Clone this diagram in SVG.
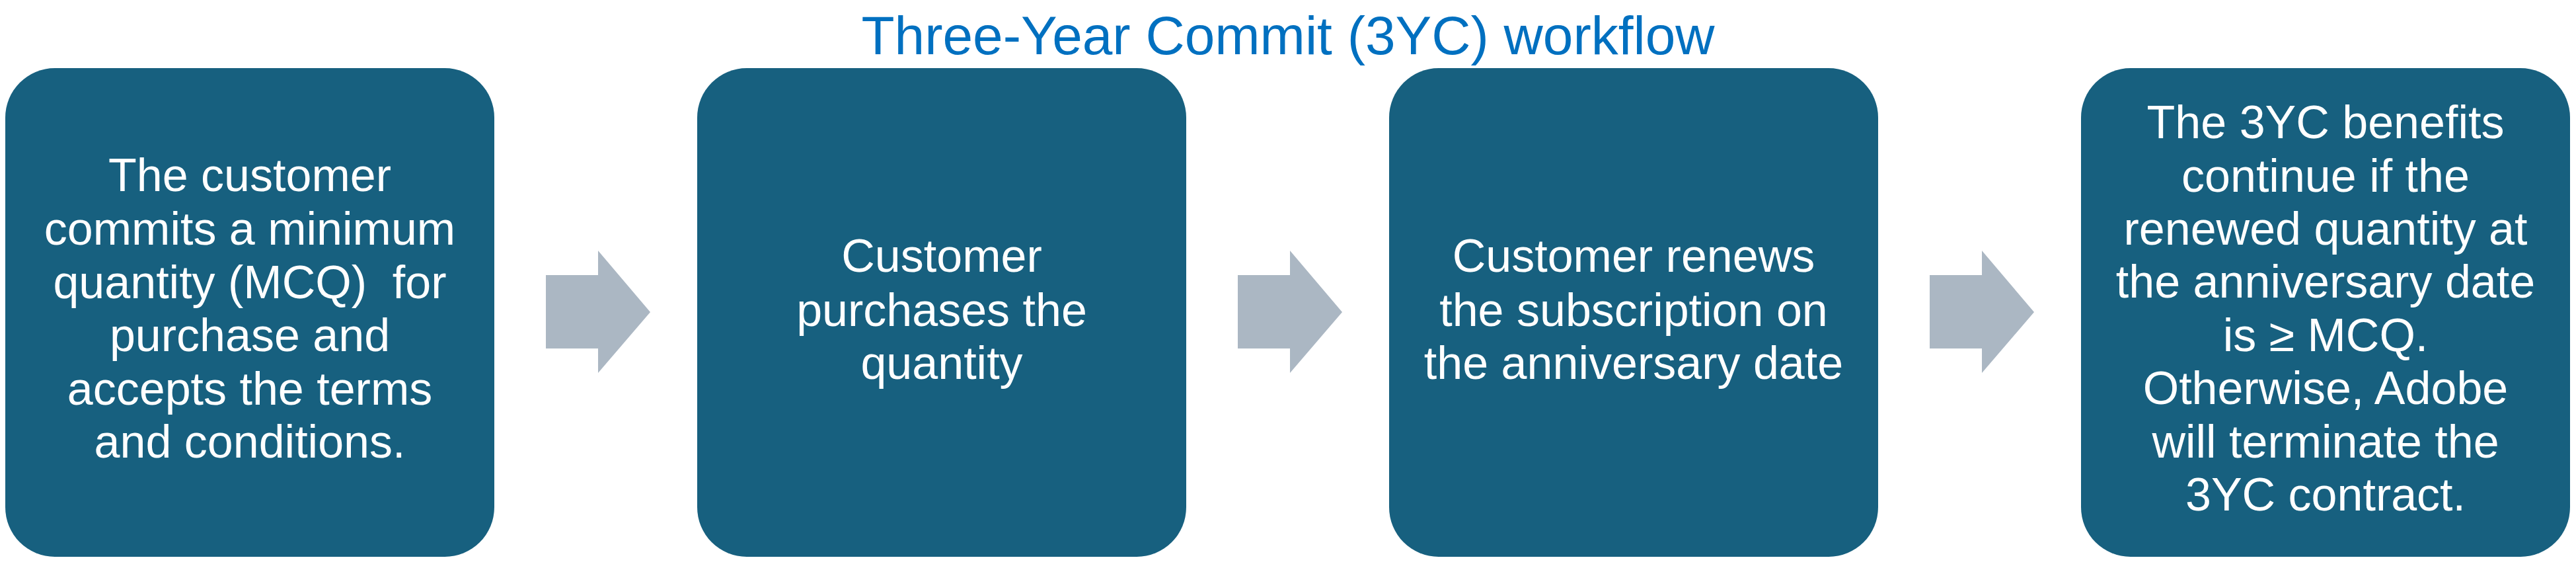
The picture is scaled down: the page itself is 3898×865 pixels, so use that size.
<svg xmlns="http://www.w3.org/2000/svg" width="3898" height="865" viewBox="0 0 3898 865">
  <style>
    .box { fill: #17607F; }
    .arrow { fill: #ABB7C3; }
    .lbl { font-family: "Liberation Sans", Arial, sans-serif; font-size: 70px; fill: #FFFFFF; text-anchor: middle; }
    .title { font-family: "Liberation Sans", Arial, sans-serif; font-size: 82px; fill: #0070C0; text-anchor: middle; }
  </style>
  <rect width="3898" height="865" fill="#FFFFFF"/>
  <text class="title" x="1949" y="82">Three-Year Commit (3YC) workflow</text>

  <g id="connectors">
    <polygon class="arrow" points="826,416 905,416 905,379 984,472 905,564 905,527 826,527"/>
    <polygon class="arrow" points="1873,416 1952,416 1952,379 2031,472 1952,564 1952,527 1873,527"/>
    <polygon class="arrow" points="2920,416 2999,416 2999,379 3078,472 2999,564 2999,527 2920,527"/>
  </g>

  <g id="step1">
    <rect class="box" x="8" y="103" width="740" height="739" rx="75" ry="75"/>
    <text class="lbl"><tspan x="378" y="289">The customer</tspan><tspan x="378" y="370">commits a minimum</tspan><tspan x="378" y="451">quantity (MCQ)&#160; for</tspan><tspan x="378" y="531">purchase and</tspan><tspan x="378" y="612">accepts the terms</tspan><tspan x="378" y="692">and conditions.</tspan></text>
  </g>

  <g id="step2">
    <rect class="box" x="1055" y="103" width="740" height="739" rx="75" ry="75"/>
    <text class="lbl"><tspan x="1425" y="411">Customer</tspan><tspan x="1425" y="493">purchases the</tspan><tspan x="1425" y="573">quantity</tspan></text>
  </g>

  <g id="step3">
    <rect class="box" x="2102" y="103" width="740" height="739" rx="75" ry="75"/>
    <text class="lbl"><tspan x="2472" y="411">Customer renews</tspan><tspan x="2472" y="493">the subscription on</tspan><tspan x="2472" y="573">the anniversary date</tspan></text>
  </g>

  <g id="step4">
    <rect class="box" x="3149" y="103" width="740" height="739" rx="75" ry="75"/>
    <text class="lbl"><tspan x="3519" y="209">The 3YC benefits</tspan><tspan x="3519" y="290">continue if the</tspan><tspan x="3519" y="370">renewed quantity at</tspan><tspan x="3519" y="450">the anniversary date</tspan><tspan x="3519" y="531">is ≥ MCQ.</tspan><tspan x="3519" y="611">Otherwise, Adobe</tspan><tspan x="3519" y="692">will terminate the</tspan><tspan x="3519" y="772">3YC contract.</tspan></text>
  </g>
</svg>
